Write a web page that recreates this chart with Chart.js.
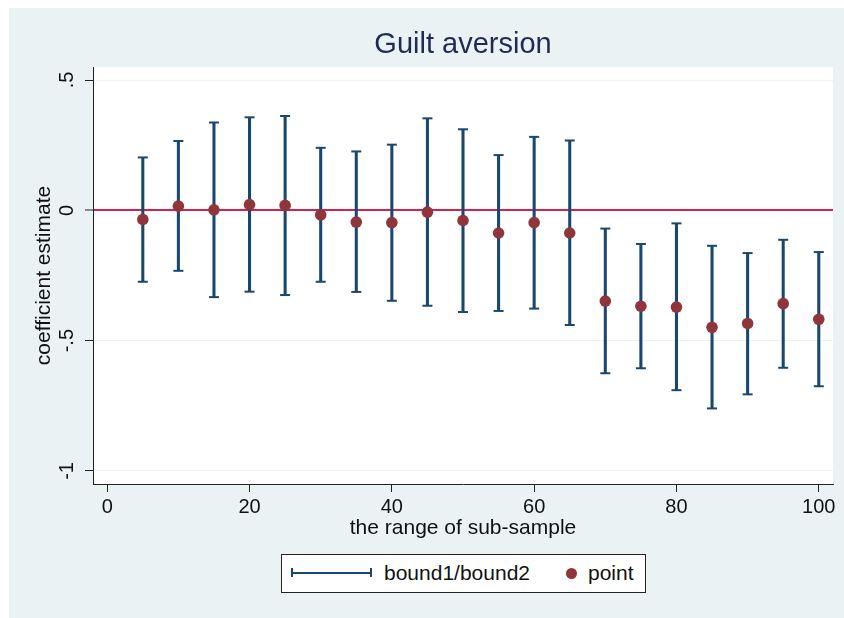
<!DOCTYPE html>
<html>
<head>
<meta charset="utf-8">
<script src="https://cdn.jsdelivr.net/npm/chart.js@4"></script>
<style>
  body { margin: 0; background: #fff; font-family: "Liberation Sans", Arial, sans-serif; }
  #bg { position: absolute; left: 9px; top: 8px; width: 835px; height: 610px; background: #EAF2F3; }
  #chart { position: absolute; left: 0; top: 0; }
  #legend { position: absolute; left: 272px; top: 546px; width: 363px; height: 37px; background: #fff; border: 1px solid #222; font-size: 21px; color: #111; }
  #legend .eb { position: absolute; left: 9px; top: 13px; width: 77px; height: 9px; border-left: 2px solid #1A476F; border-right: 2px solid #1A476F; }
  #legend .eb:after { content: ""; position: absolute; left: 0; right: 0; top: 3.5px; height: 2px; background: #1A476F; }
  #legend .t1 { position: absolute; left: 102px; top: 6px; }
  #legend .dot { position: absolute; left: 284px; top: 13px; width: 11px; height: 11px; border-radius: 50%; background: #90353B; }
  #legend .t2 { position: absolute; left: 306px; top: 6px; }
</style>
</head>
<body>
<div id="bg">
  <canvas id="chart" width="835" height="610"></canvas>
  <div id="legend">
    <div class="eb"></div><span class="t1" id="lab1"></span>
    <div class="dot"></div><span class="t2" id="lab2"></span>
  </div>
</div>
<script>
const titulo = 'Guilt aversion';
const ejeX = 'the range of sub-sample';
const ejeY = 'coefficient estimate';
const nombreBarras = 'bound1/bound2';
const nombrePuntos = 'point';

const rango = [5, 10, 15, 20, 25, 30, 35, 40, 45, 50, 55, 60, 65, 70, 75, 80, 85, 90, 95, 100];
const punto = [-0.035, 0.016, 0.002, 0.022, 0.019, -0.017, -0.045, -0.047, -0.007, -0.039,
               -0.087, -0.047, -0.087, -0.348, -0.368, -0.371, -0.449, -0.434, -0.358, -0.418];
const bound1 = [0.203, 0.266, 0.337, 0.357, 0.362, 0.240, 0.226, 0.252, 0.353, 0.311,
                0.212, 0.282, 0.268, -0.070, -0.129, -0.050, -0.136, -0.164, -0.113, -0.160];
const bound2 = [-0.274, -0.232, -0.333, -0.312, -0.325, -0.274, -0.313, -0.347, -0.366, -0.390,
                -0.386, -0.377, -0.440, -0.625, -0.606, -0.690, -0.760, -0.706, -0.604, -0.675];
const ticksX = [0, 20, 40, 60, 80, 100];
const ticksY = [-1, -0.5, 0, 0.5];

document.getElementById('lab1').textContent = nombreBarras;
document.getElementById('lab2').textContent = nombrePuntos;

const azul = '#1A476F';
const granate = '#90353B';
const fuente = '"Liberation Sans", Arial, sans-serif';

// fondo blanco solo dentro del area del grafico
const fondoPlot = {
  id: 'fondoPlot',
  beforeDraw(chart) {
    const a = chart.chartArea;
    chart.ctx.save();
    chart.ctx.fillStyle = '#fff';
    chart.ctx.fillRect(a.left, a.top, a.right - a.left, a.bottom - a.top);
    chart.ctx.restore();
  }
};

const fmtY = v => v === 0 ? '0' : String(v).replace('0.', '.');

new Chart(document.getElementById('chart'), {
  type: 'scatter',
  data: {
    datasets: [
      {
        label: nombrePuntos,
        data: rango.map((x, i) => ({ x: x, y: punto[i] })),
        backgroundColor: granate,
        borderWidth: 0,
        pointRadius: 5.8,
        order: 0
      },
      {
        label: 'caps',
        data: rango.map((x, i) => ({ x: x, y: bound1[i] })).concat(rango.map((x, i) => ({ x: x, y: bound2[i] }))),
        pointStyle: 'line',
        pointRadius: 5,
        borderColor: azul,
        borderWidth: 2,
        order: 1
      },
      {
        type: 'bar',
        label: nombreBarras,
        data: rango.map((x, i) => ({ x: x, y: [bound2[i], bound1[i]] })),
        backgroundColor: azul,
        borderWidth: 0,
        barThickness: 2.4,
        order: 2
      }
    ]
  },
  options: {
    responsive: false,
    devicePixelRatio: 1,
    animation: false,
    events: [],
    layout: { padding: { left: 0, right: 11, top: 0, bottom: 74 } },
    plugins: {
      legend: { display: false },
      tooltip: { enabled: false },
      title: {
        display: true,
        fullSize: false,
        text: titulo,
        color: '#1E2C55',
        font: { family: fuente, size: 29, weight: 'normal' },
        padding: { top: 20, bottom: 4.2 }
      }
    },
    scales: {
      x: {
        type: 'linear',
        min: -2,
        max: 102,
        offset: false,
        afterBuildTicks: s => { s.ticks = ticksX.map(v => ({ value: v })); },
        afterFit: s => { s.height = 60; s.paddingLeft = 0; s.paddingRight = 0; },
        ticks: { color: '#111', font: { family: fuente, size: 20 }, padding: 3, maxRotation: 0, autoSkip: false },
        grid: { offset: false, drawOnChartArea: false, tickLength: 8, tickColor: '#222', tickWidth: 1 },
        border: { display: true, color: '#222', width: 1 },
        title: { display: true, text: ejeX, color: '#111', font: { family: fuente, size: 21 }, padding: { top: 0, bottom: 3.5 } }
      },
      y: {
        type: 'linear',
        min: -1.05,
        max: 0.55,
        afterBuildTicks: s => { s.ticks = ticksY.map(v => ({ value: v })); },
        afterFit: s => { s.width = 84; s.paddingTop = 0; s.paddingBottom = 0; },
        ticks: {
          color: '#111', font: { family: fuente, size: 20 }, padding: 6,
          minRotation: 90, maxRotation: 90, crossAlign: 'center', autoSkip: false,
          callback: v => fmtY(v)
        },
        grid: {
          offset: false,
          color: c => c.tick && c.tick.value === 0 ? '#D42150' : '#EAF2F3',
          lineWidth: c => c.tick && c.tick.value === 0 ? 2 : 1,
          tickLength: 8, tickColor: '#222', tickWidth: 1
        },
        border: { display: true, color: '#222', width: 1 },
        title: { display: true, text: ejeY, color: '#111', font: { family: fuente, size: 21 }, padding: { top: 23, bottom: 0 } }
      }
    }
  },
  plugins: [fondoPlot]
});
</script>
</body>
</html>
